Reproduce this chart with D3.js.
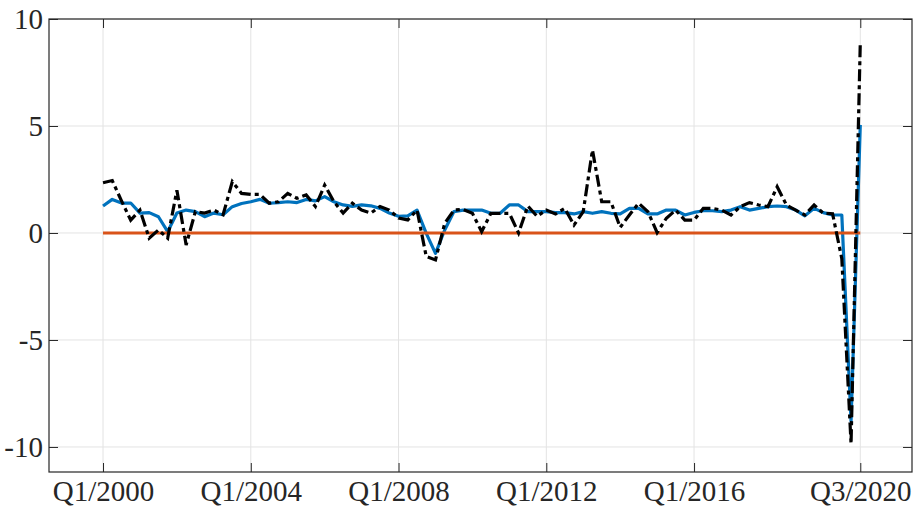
<!DOCTYPE html>
<html>
<head>
<meta charset="utf-8">
<script src="https://cdn.jsdelivr.net/npm/d3@7"></script>
<style>
  html, body { margin: 0; padding: 0; background: #fff; }
</style>
</head>
<body>
<svg id="chart" width="913" height="507"></svg>
<script>
// ---- data (quarterly, Q1/2000 .. Q3/2020) ----
const nQuarters = 83;
const xTickIndex = [0, 16, 32, 48, 64, 82];
const xTickLabels = ["Q1/2000", "Q1/2004", "Q1/2008", "Q1/2012", "Q1/2016", "Q3/2020"];
const yTicks = [-10, -5, 0, 5, 10];
const yTickLabels = ["-10", "-5", "0", "5", "10"];

const blueSeries = [
  1.26, 1.57, 1.40, 1.40, 0.93, 0.95, 0.76, 0.06, 0.93, 1.07,
  1.00, 0.76, 0.93, 0.85, 1.23, 1.38, 1.46, 1.57, 1.39, 1.42,
  1.46, 1.42, 1.57, 1.50, 1.70, 1.46, 1.31, 1.24, 1.31, 1.27,
  1.15, 0.93, 0.78, 0.80, 1.07, -0.02, -0.95, 0.14, 1.00, 1.07,
  1.07, 1.07, 0.92, 0.92, 1.31, 1.31, 1.00, 1.00, 1.00, 0.95,
  0.95, 0.89, 1.00, 0.92, 1.00, 0.92, 0.89, 1.15, 1.15, 0.89,
  0.89, 1.07, 1.07, 0.84, 0.96, 1.04, 1.04, 1.00, 1.07, 1.23,
  1.07, 1.15, 1.23, 1.26, 1.23, 1.07, 0.80, 1.15, 0.95, 0.84,
  0.84, -8.80, 5.05
];
const blackSeries = [
  2.35, 2.45, 1.50, 0.60, 1.07, -0.24, 0.14, -0.24, 2.00, -0.56,
  1.00, 0.93, 1.07, 0.85, 2.40, 1.85, 1.80, 1.80, 1.39, 1.46,
  1.85, 1.62, 1.78, 1.24, 2.24, 1.46, 0.93, 1.39, 1.07, 0.93,
  1.24, 1.07, 0.70, 0.61, 1.07, -1.10, -1.26, 0.45, 1.07, 1.10,
  0.92, 0.06, 0.92, 0.92, 0.92, 0.00, 1.26, 0.78, 1.07, 0.89,
  1.15, 0.37, 1.00, 3.88, 1.46, 1.46, 0.26, 0.84, 1.39, 1.00,
  0.02, 0.69, 1.07, 0.60, 0.60, 1.15, 1.15, 1.07, 0.84, 1.23,
  1.42, 1.31, 1.23, 2.16, 1.31, 1.07, 0.84, 1.31, 0.92, 0.90,
  -1.20, -9.85, 8.90
];
const orangeSeries = new Array(nQuarters).fill(0);

// ---- layout ----
const svg = d3.select("#chart");
const FONT = '"Liberation Serif", serif';
const FSIZE = "29px";
const L = 49, R = 912, T = 19, B = 472;
const x = d3.scaleLinear().domain([-5.85, 87.6]).range([L, R]);
const y = d3.scaleLinear().domain([-11.17, 10]).range([B, T]);

svg.append("rect").attr("width", 913).attr("height", 507).attr("fill", "#fff");

// grid
const grid = svg.append("g").attr("stroke", "#e3e3e3").attr("stroke-width", 1);
xTickIndex.forEach(i => grid.append("line")
  .attr("x1", x(i)).attr("x2", x(i)).attr("y1", T).attr("y2", B));
yTicks.forEach(v => grid.append("line")
  .attr("x1", L).attr("x2", R).attr("y1", y(v)).attr("y2", y(v)));

// clip
svg.append("clipPath").attr("id", "clip").append("rect")
  .attr("x", L).attr("y", T).attr("width", R - L).attr("height", B - T);

const line = d3.line().x((d, i) => x(i)).y(d => y(d));
const plot = svg.append("g").attr("clip-path", "url(#clip)");

plot.append("path").datum(blueSeries).attr("d", line)
  .attr("fill", "none").attr("stroke", "#0072BD").attr("stroke-width", 3.2)
  .attr("stroke-linejoin", "round");
plot.append("path").datum(orangeSeries).attr("d", line)
  .attr("fill", "none").attr("stroke", "#D95319").attr("stroke-width", 3.2);
plot.append("path").datum(blackSeries).attr("d", line)
  .attr("fill", "none").attr("stroke", "#000").attr("stroke-width", 3.2)
  .attr("stroke-dasharray", "12,4,4,4");

// axes
const axColor = "#262626";
const tickLen = 9;

const axB = svg.append("g").attr("transform", `translate(0,${B})`)
  .call(d3.axisBottom(x).tickValues(xTickIndex).tickSizeInner(-tickLen).tickSizeOuter(0));
const axT = svg.append("g").attr("transform", `translate(0,${T})`)
  .call(d3.axisTop(x).tickValues(xTickIndex).tickFormat("").tickSizeInner(-tickLen).tickSizeOuter(0));
const axL = svg.append("g").attr("transform", `translate(${L},0)`)
  .call(d3.axisLeft(y).tickValues(yTicks).tickSizeInner(-tickLen).tickSizeOuter(0).tickPadding(6));
const axR = svg.append("g").attr("transform", `translate(${R},0)`)
  .call(d3.axisRight(y).tickValues(yTicks).tickFormat("").tickSizeInner(-tickLen).tickSizeOuter(0));

[axB, axT, axL, axR].forEach(g => {
  g.select(".domain").remove();
  g.selectAll(".tick line").attr("stroke", axColor).attr("stroke-width", 1);
});
axB.selectAll(".tick text")
  .style("font-family", FONT).style("font-size", FSIZE).attr("fill", axColor)
  .attr("y", 8).attr("dy", "0.71em")
  .text(d => xTickLabels[xTickIndex.indexOf(d)]);
axL.selectAll(".tick text")
  .style("font-family", FONT).style("font-size", FSIZE).attr("fill", axColor)
  .text(d => yTickLabels[yTicks.indexOf(d)]);

// box
svg.append("rect").attr("x", L).attr("y", T).attr("width", R - L).attr("height", B - T)
  .attr("fill", "none").attr("stroke", axColor).attr("stroke-width", 1.2);
</script>
</body>
</html>
